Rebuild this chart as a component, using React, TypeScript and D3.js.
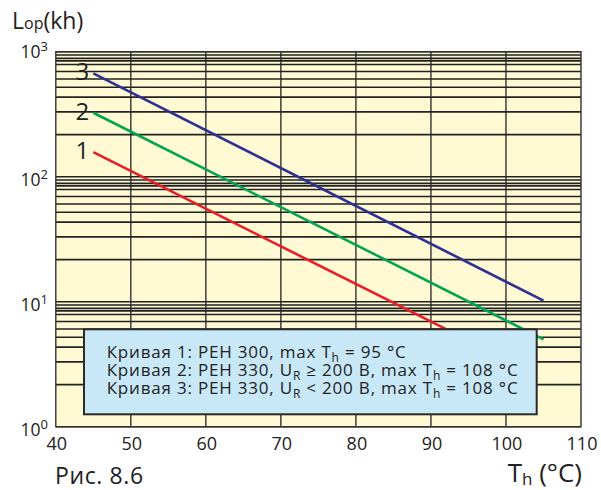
import React from "react";
import * as d3 from "d3";

const xTicks = [40, 50, 60, 70, 80, 90, 100, 110];
const yDecades = [1, 10, 100, 1000];
const yExponents = ["0", "1", "2", "3"];
const gridMultipliers = [2.17, 3.3, 4.33, 5.2, 6.05, 6.95, 7.9, 8.45, 8.85, 9.4];

const curveNames = ["1", "2", "3"];
const curveColors = ["#ec1c24", "#00a650", "#2e3092"];
const curve1Temps = [45, 95];
const curve1Life = [157, 4.9];
const curve2Temps = [45, 105];
const curve2Life = [325, 5.0];
const curve3Temps = [45, 105];
const curve3Life = [670, 10.2];

const legendLines = [
  { pre: "Кривая 1: PEH 300, max T", sub1: "", mid: "", sub: "h", post: " = 95 °C" },
  { pre: "Кривая 2: PEH 330, U", sub1: "R", mid: " ≥ 200 В, max T", sub: "h", post: " = 108 °C" },
  { pre: "Кривая 3: PEH 330, U", sub1: "R", mid: " < 200 В, max T", sub: "h", post: " = 108 °C" },
];

const FONT = "'Open Sans', 'Noto Sans', sans-serif";

export default function App() {
  const W = 601;
  const H = 490;
  const left = 55.8, right = 581, top = 51.7, bottom = 426.7;
  const x = d3.scaleLinear().domain([40, 110]).range([left, right]);
  const y = d3.scaleLog().domain([1, 1000]).range([bottom, top]);

  const gridVals: number[] = [];
  for (let d = 0; d < 3; d++) {
    const base = yDecades[d];
    gridVals.push(base);
    gridMultipliers.forEach((m) => gridVals.push(base * m));
  }
  gridVals.push(1000);

  const curves = [
    { t: curve1Temps, v: curve1Life },
    { t: curve2Temps, v: curve2Life },
    { t: curve3Temps, v: curve3Life },
  ];
  const line = d3
    .line<[number, number]>()
    .x((d) => x(d[0]))
    .y((d) => y(d[1]));

  const box = { x0: 84, y0: 329.3, x1: 536.7, y1: 414.3 };

  return (
    <svg width={W} height={H} style={{ display: "block", position: "absolute", left: 0, top: 0 }} fontFamily={FONT}>
      <rect x={0} y={0} width={W} height={H} fill="#ffffff" />
      <rect x={left} y={top} width={right - left} height={bottom - top} fill="#fff9d4" />
      {xTicks.slice(1, -1).map((t) => (
        <line key={"vx" + t} x1={x(t)} x2={x(t)} y1={top} y2={bottom} stroke="#222" strokeWidth={1.3} />
      ))}
      {gridVals.map((v, i) => (
        <line key={"hy" + i} x1={left} x2={right} y1={y(v)} y2={y(v)} stroke="#222" strokeWidth={1.6} />
      ))}
      <rect x={left} y={top} width={right - left} height={bottom - top} fill="none" stroke="#333" strokeWidth={1.4} />
      {curves.map((c, i) => (
        <path
          key={"c" + i}
          d={line(c.t.map((t, j) => [t, c.v[j]] as [number, number])) || ""}
          fill="none"
          stroke={curveColors[i]}
          strokeWidth={2.6}
        />
      ))}
      {curves.map((c, i) => (
        <text
          key={"cl" + i}
          x={x(c.t[0]) - 4}
          y={y(c.v[0]) + 7}
          textAnchor="end"
          fontSize={24}
          fill="#222"
        >
          {curveNames[i]}
        </text>
      ))}
      <rect
        x={box.x0}
        y={box.y0}
        width={box.x1 - box.x0}
        height={box.y1 - box.y0}
        fill="#c8e8f8"
        stroke="#2a2a2a"
        strokeWidth={2}
      />
      {legendLines.map((l, i) => (
        <text
          key={"lg" + i}
          x={106.7}
          y={357.5 + i * 18.4}
          fontSize={17}
          letterSpacing={0.8}
          fill="#222"
        >
          {l.pre}
          {l.sub1 ? (
            <tspan fontSize={12} dy={4}>
              {l.sub1}
            </tspan>
          ) : null}
          {l.sub1 ? <tspan dy={-4}>{l.mid}</tspan> : null}
          <tspan fontSize={12} dy={4}>
            {l.sub}
          </tspan>
          <tspan dy={-4}>{l.post}</tspan>
        </text>
      ))}
      {xTicks.map((t) => (
        <text key={"xt" + t} x={x(t) + 1} y={449.5} textAnchor="middle" fontSize={18} fill="#222">
          {t}
        </text>
      ))}
      {yDecades.map((v, i) => (
        <text key={"yt" + v} x={48} y={y(v) + (i === 3 ? 6 : 9)} textAnchor="end" fontSize={17.5} fill="#222">
          10
          <tspan fontSize={13} dy={-7}>
            {yExponents[i]}
          </tspan>
        </text>
      ))}
      <text x={12} y={29.3} fontSize={23} fill="#222">
        L<tspan fontSize={16}>op</tspan>(kh)
      </text>
      <text x={582} y={482} textAnchor="end" fontSize={26} fill="#222">
        T<tspan fontSize={17} dy={3}>h</tspan>
        <tspan dy={-3}> (°C)</tspan>
      </text>
      <text x={55} y={484} fontSize={23} letterSpacing={0.6} fill="#222">
        Рис. 8.6
      </text>
    </svg>
  );
}
